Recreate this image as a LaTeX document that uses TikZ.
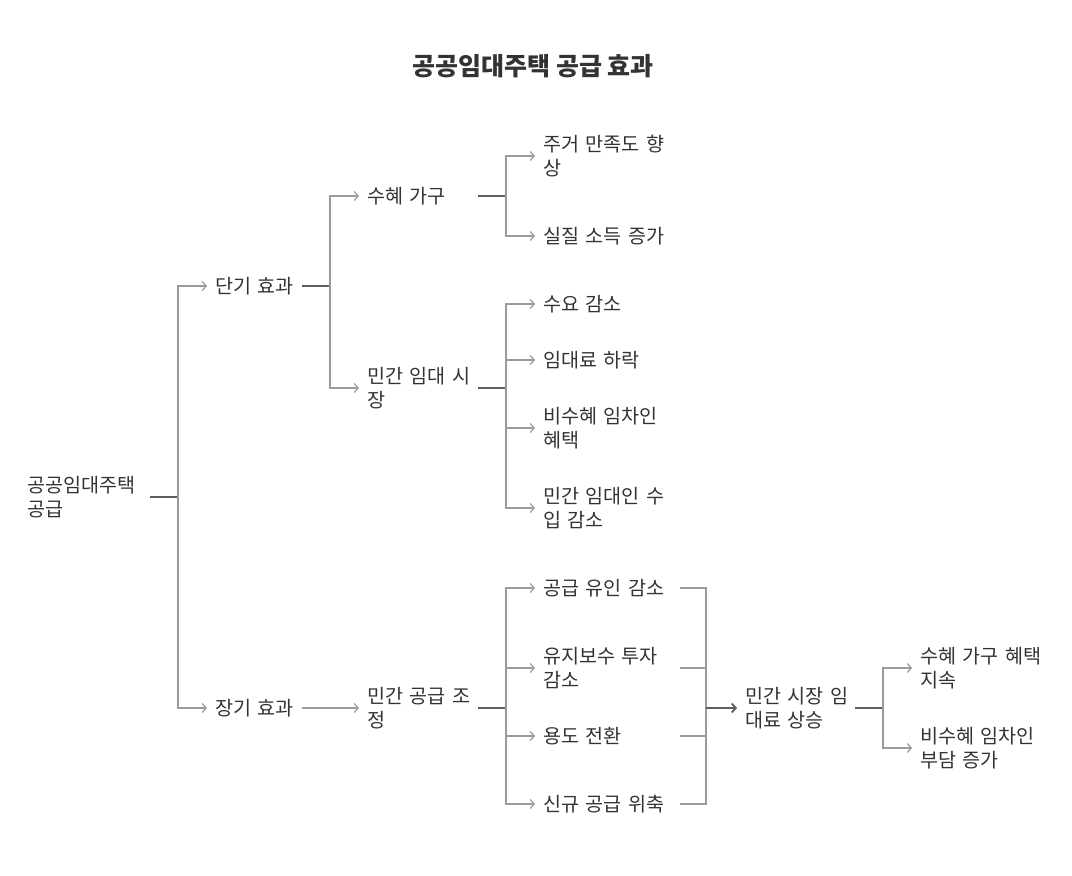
\documentclass[tikz,border=0pt]{standalone}
\usepackage{fontspec}
\setmainfont{Noto Sans CJK KR}
\usetikzlibrary{arrows.meta}
\definecolor{txtgray}{HTML}{333333}
\definecolor{lnlight}{HTML}{9A9A9A}
\definecolor{lndark}{HTML}{5E5E5E}
\begin{document}
\begin{tikzpicture}[x=1pt,y=-1pt,
    lbl/.style={anchor=west, inner sep=0pt, align=left, text=txtgray, font=\fontsize{19.6}{24.5}\selectfont},
    br/.style={draw=lnlight, line width=1.2pt},
    stub/.style={draw=lndark, line width=1.5pt},
    arr/.style={br, -{Straight Barb[length=4pt,width=9pt]}, shorten >=8pt}]
    \useasboundingbox (0,0) rectangle (1072,876);
    \node[text=txtgray, font=\bfseries\fontsize{25}{28}\selectfont] (title) at (533,66) {공공임대주택 공급 효과};

    \node[lbl, text width=123pt] (root) at (27,497) {공공임대주택\\공급};
    \node[lbl, text width=87pt] (short) at (215,286) {단기 효과};
    \node[lbl, text width=87pt] (long) at (215,708) {장기 효과};
    \node[lbl, text width=111pt] (benef) at (367,196) {수혜 가구};
    \node[lbl, text width=111pt] (rental) at (367,388) {민간 임대 시\\장};
    \node[lbl, text width=111pt] (supply) at (367,708) {민간 공급 조\\정};
    \node[lbl, text width=137pt] (satis) at (543,156) {주거 만족도 향\\상};
    \node[lbl, text width=137pt] (income) at (543,236) {실질 소득 증가};
    \node[lbl, text width=137pt] (demand) at (543,304) {수요 감소};
    \node[lbl, text width=137pt] (rent) at (543,360) {임대료 하락};
    \node[lbl, text width=137pt] (nonbenef) at (543,428) {비수혜 임차인\\혜택};
    \node[lbl, text width=137pt] (landlord) at (543,508) {민간 임대인 수\\입 감소};
    \node[lbl, text width=137pt] (incent) at (543,588) {공급 유인 감소};
    \node[lbl, text width=137pt] (maint) at (543,668) {유지보수 투자\\감소};
    \node[lbl, text width=137pt] (convert) at (543,736) {용도 전환};
    \node[lbl, text width=137pt] (newsup) at (543,804) {신규 공급 위축};
    \node[lbl, text width=110pt] (rise) at (745,708) {민간 시장 임\\대료 상승};
    \node[lbl, text width=130pt] (keep) at (920,668) {수혜 가구 혜택\\지속};
    \node[lbl, text width=130pt] (burden) at (920,748) {비수혜 임차인\\부담 증가};

    \coordinate (j0) at (178,497);
    \coordinate (j1) at (330,286);
    \coordinate (j2) at (506,196);
    \coordinate (j3) at (506,388);
    \coordinate (j4) at (506,708);
    \coordinate (j5) at (706,708);
    \coordinate (j6) at (883,708);

    \draw[stub] (root.east) -- (j0);
    \draw[arr] (j0) |- (short.west);
    \draw[arr] (j0) |- (long.west);
    \draw[stub] (short.east) -- (j1);
    \draw[arr] (j1) |- (benef.west);
    \draw[arr] (j1) |- (rental.west);
    \draw[arr] (long.east) -- (supply.west);

    \draw[stub] (benef.east) -- (j2);
    \draw[arr] (j2) |- (satis.west);
    \draw[arr] (j2) |- (income.west);
    \draw[stub] (rental.east) -- (j3);
    \foreach \n in {demand,rent,nonbenef,landlord}
        \draw[arr] (j3) |- (\n.west);
    \draw[stub] (supply.east) -- (j4);
    \foreach \n in {incent,maint,convert,newsup}
        \draw[arr] (j4) |- (\n.west);

    \foreach \n in {incent,maint,convert,newsup}
        \draw[br] (\n.east) -| (j5);
    \draw[arr, draw=lndark, line width=1.8pt] (j5) -- (rise.west);
    \draw[stub] (rise.east) -- (j6);
    \draw[arr] (j6) |- (keep.west);
    \draw[arr] (j6) |- (burden.west);
\end{tikzpicture}
\end{document}
